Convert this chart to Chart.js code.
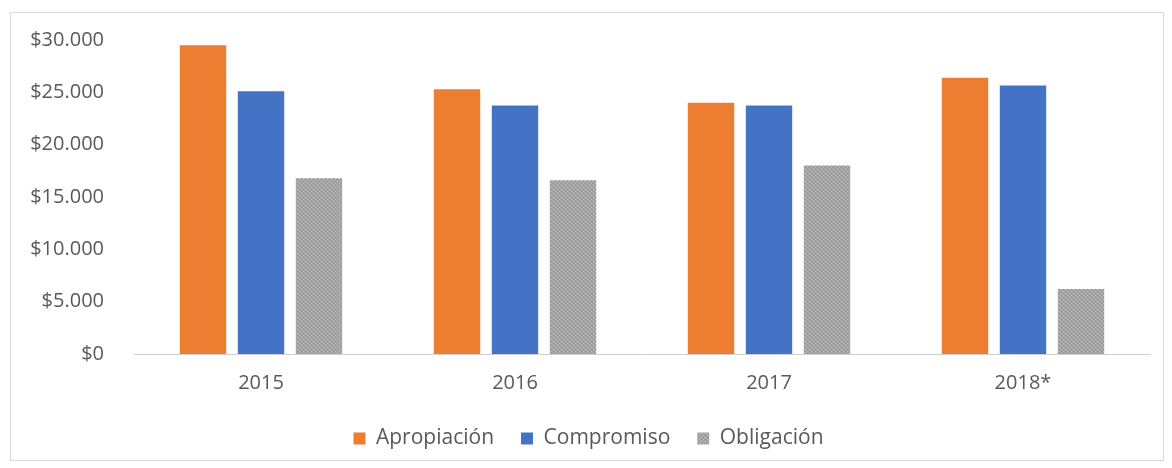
<!DOCTYPE html>
<html>
<head>
<meta charset="utf-8">
<script src="https://cdn.jsdelivr.net/npm/chart.js@4"></script>
<style>
  html, body { margin: 0; padding: 0; background: #fff; }
  #box {
    position: absolute; left: 10px; top: 12px;
    width: 1154px; height: 449px;
    border: 1px solid #d9d9d9; box-sizing: border-box;
  }
</style>
</head>
<body>
<div id="box"><canvas id="grafico"></canvas></div>
<script>
const categories = ['2015', '2016', '2017', '2018*'];
const apropiacion = [29500, 25300, 24000, 26400];
const compromiso = [25100, 23750, 23750, 25650];
const obligacion = [16800, 16600, 18000, 6200];
const yMax = 30000;
const yStep = 5000;

// gray bars in the original have a dotted texture
function grayPattern() {
  const c = document.createElement('canvas');
  c.width = 4; c.height = 4;
  const g = c.getContext('2d');
  g.fillStyle = '#a5a5a5';
  g.fillRect(0, 0, 4, 4);
  g.fillStyle = '#8f8f8f';
  g.fillRect(0, 0, 1, 1);
  g.fillRect(2, 2, 1, 1);
  g.fillStyle = '#bdbdbd';
  g.fillRect(2, 0, 1, 1);
  g.fillRect(0, 2, 1, 1);
  return g.createPattern(c, 'repeat');
}

function money(v) {
  return '$' + v.toLocaleString('de-DE');
}

Chart.defaults.font.family = "'Open Sans', 'Noto Sans', sans-serif";
Chart.defaults.font.size = 20;
Chart.defaults.color = '#595959';

const ctx = document.getElementById('grafico');
new Chart(ctx, {
  type: 'bar',
  data: {
    labels: categories,
    datasets: [
      { label: 'Apropiación', data: apropiacion, backgroundColor: '#ed7d31' },
      { label: 'Compromiso', data: compromiso, backgroundColor: '#4472c4' },
      { label: 'Obligación', data: obligacion, backgroundColor: grayPattern() }
    ]
  },
  options: {
    responsive: true,
    maintainAspectRatio: false,
    animation: false,
    categoryPercentage: 0.685,
    barPercentage: 0.8,
    layout: { padding: { left: 16, right: 13, top: 27, bottom: 1 } },
    plugins: {
      legend: {
        position: 'bottom',
        labels: { boxWidth: 12, boxHeight: 12, padding: 27, font: { size: 21 } }
      },
      tooltip: { enabled: false }
    },
    scales: {
      x: {
        grid: { display: false, drawTicks: false },
        border: { display: true, color: '#cfcfcf', dash: [2, 1], width: 1 },
        ticks: { padding: 17 },
        afterFit: s => { s.height -= 11; }
      },
      y: {
        min: 0,
        max: yMax,
        grid: { display: false, drawTicks: false },
        border: { display: false },
        ticks: { stepSize: yStep, padding: 30, callback: v => money(v) },
        afterFit: s => {
          s.width = 107;
          s.paddingTop = 0;
          s.paddingBottom = 0;
        }
      }
    }
  }
});
</script>
</body>
</html>
